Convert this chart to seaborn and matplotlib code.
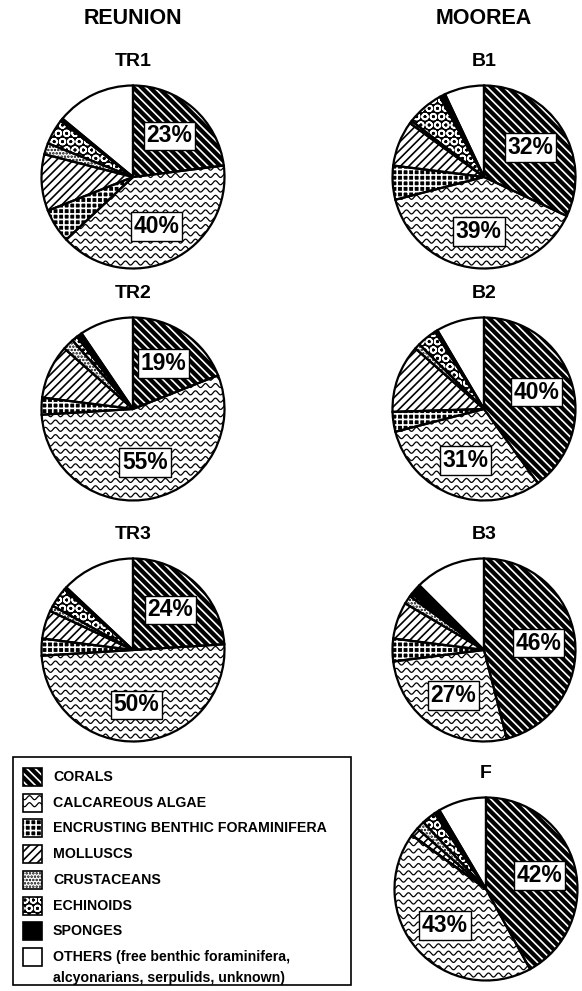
import numpy as np
import matplotlib
matplotlib.use("Agg")
import matplotlib.pyplot as plt
from matplotlib.patches import Rectangle
import seaborn as sns

# ---------------------------------------------------------------- data
categories = [
    "CORALS",
    "CALCAREOUS ALGAE",
    "ENCRUSTING BENTHIC FORAMINIFERA",
    "MOLLUSCS",
    "CRUSTACEANS",
    "ECHINOIDS",
    "SPONGES",
    "OTHERS (free benthic foraminifera,\nalcyonarians, serpulids, unknown)",
]

regions = ["REUNION", "MOOREA"]

# percent composition of each sample, in the order of `categories`
tr1 = [23, 40, 6, 10, 2, 4.5, 0.5, 14]
tr2 = [19, 55, 3, 9.5, 2, 1, 1, 9.5]
tr3 = [24, 50, 3, 5, 1, 3.5, 0.5, 13]
b1 = [32, 39, 6, 8, 0.5, 6.5, 1, 7]
b2 = [40, 31, 3.5, 12, 1, 3.5, 0.5, 8.5]
b3 = [46, 27, 4, 6.5, 1.5, 0.5, 2, 12.5]
f_site = [42, 43, 0, 1.5, 1.5, 2.5, 1, 8.5]

site_names = ["TR1", "TR2", "TR3", "B1", "B2", "B3", "F"]
site_values = [tr1, tr2, tr3, b1, b2, b3, f_site]

# ---------------------------------------------------------------- style
sns.set_theme(style="white")
plt.rcParams["font.family"] = ["Liberation Sans", "DejaVu Sans"]
plt.rcParams["text.color"] = "black"
plt.rcParams["hatch.linewidth"] = 1.2

# (face colour, hatch, hatch colour, wavy texture)
fills = [
    ("black", "\\\\\\\\", "white", False),  # corals
    ("white", None, "black", True),          # calcareous algae
    ("black", "+++", "white", False),        # encrusting forams
    ("white", "////", "black", False),       # molluscs
    ("white", ".....", "black", False),      # crustaceans
    ("black", "OO", "white", False),         # echinoids
    ("black", None, "black", False),         # sponges
    ("white", None, "black", False),         # others
]

W, H = 582, 991
fig = plt.figure(figsize=(W / 100, H / 100), dpi=100)
fig.patch.set_facecolor("white")

R = 91.5          # pie radius, px
M = 6             # margin around each pie, px


def px_axes(x0, y0, w, h):
    return fig.add_axes([x0 / W, 1 - (y0 + h) / H, w / W, h / H])


def add_waves(ax, clip, x0, x1, y0, y1, step, wavelength, amp, lw=0.9):
    xs = np.linspace(x0, x1, 600)
    for y in np.arange(y0, y1, step):
        ln, = ax.plot(xs, y + amp * np.sin(2 * np.pi * xs / wavelength),
                      color="black", lw=lw, zorder=2, solid_capstyle="butt")
        ln.set_clip_path(clip)


def draw_pie(name, values, cx, cy):
    ax = px_axes(cx - R - M, cy - R - M, 2 * (R + M), 2 * (R + M))
    ax.axis("off")

    wedges, _, autotexts = ax.pie(
        values, startangle=90, counterclock=False, radius=1,
        autopct=lambda p: f"{p:.0f}%" if p >= 15 else "",
        pctdistance=0.6,
        textprops=dict(fontsize=16.5, fontweight="bold", color="black"),
        wedgeprops=dict(linewidth=0),
    )
    for w, (fc, hatch, hc, wavy) in zip(wedges, fills):
        w.set_facecolor(fc)
        w.set_edgecolor(hc)
        w.set_linewidth(0)
        w.set_zorder(1)
        if hatch:
            w.set_hatch(hatch)
        if wavy:
            u = 1 / R
            add_waves(ax, w, -1.1, 1.1, -1.1, 1.1, 7.3 * u, 10 * u, 2.0 * u)

    # outlines of the same wedges
    ax.pie(values, startangle=90, counterclock=False, radius=1,
           colors=["none"] * len(values),
           wedgeprops=dict(linewidth=1.6, edgecolor="black", fill=False,
                           zorder=3))

    for t in autotexts:
        if t.get_text():
            t.set_zorder(6)
            t.set_bbox(dict(boxstyle="square,pad=0.12", fc="white",
                            ec="black", lw=1.0))

    lim = (R + M) / R
    ax.set_xlim(-lim, lim)
    ax.set_ylim(-lim, lim)
    ax.set_aspect("equal")

    fig.text(cx / W, 1 - (cy - R - 24) / H, name, ha="center", va="center",
             fontsize=14, fontweight="bold")


centers = {
    "TR1": (133, 177), "TR2": (133, 409), "TR3": (133, 650),
    "B1": (484, 177), "B2": (484, 409), "B3": (484, 650),
    "F": (486, 889),
}

for name, vals in zip(site_names, site_values):
    draw_pie(name, vals, *centers[name])

fig.text(133 / W, 1 - 19 / H, regions[0], ha="center", va="center",
         fontsize=15.5, fontweight="bold")
fig.text(484 / W, 1 - 19 / H, regions[1], ha="center", va="center",
         fontsize=15.5, fontweight="bold")

# ---------------------------------------------------------------- legend
LX, LY, LW, LH = 12, 756, 340, 230
lax = px_axes(LX, LY, LW, LH)
lax.set_xlim(0, LW)
lax.set_ylim(LH, 0)
lax.axis("off")
lax.add_patch(Rectangle((0.6, 0.6), LW - 1.2, LH - 1.2, fill=False,
                        ec="black", lw=1.2, zorder=1))

row0, drow = 21, 25.7
for i, (label, (fc, hatch, hc, wavy)) in enumerate(zip(categories, fills)):
    yc = row0 + i * drow
    icon = Rectangle((11, yc - 9), 19, 18, facecolor=fc, edgecolor=hc,
                     lw=0, hatch=hatch, zorder=2)
    lax.add_patch(icon)
    if wavy:
        add_waves(lax, icon, 8, 34, yc - 5, yc + 9, 7, 10, 2.0)
    lax.add_patch(Rectangle((11, yc - 9), 19, 18, fill=False, ec="black",
                            lw=1.2, zorder=4))
    for j, line in enumerate(label.split("\n")):
        lax.text(41, yc + j * 21, line, ha="left", va="center",
                 fontsize=10.2, fontweight="bold")

fig.savefig("out.png", dpi=100, facecolor="white")
